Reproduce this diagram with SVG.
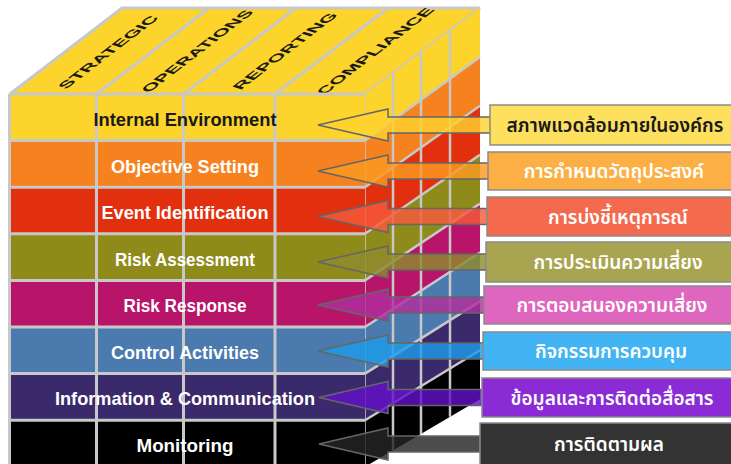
<svg xmlns="http://www.w3.org/2000/svg" width="731" height="464" viewBox="0 0 731 464">
<style>
.sep{stroke:#C8C8C8;stroke-width:3;fill:none}
.sep2{stroke:#C8C8C8;stroke-width:2.5;fill:none}
.lbl{font-family:"Liberation Sans",Arial,sans-serif;font-weight:bold;font-size:19px;text-anchor:middle;fill:#fff}
.top{font-family:"Liberation Sans",Arial,sans-serif;font-weight:bold;font-size:14px;text-anchor:middle;fill:#1a1a1a}
.arr{stroke:#666;stroke-width:1.5;fill-opacity:0.82}
.box{stroke:#8a8a8a;stroke-width:1.5}
.th{font-family:"Noto Sans Thai","Noto Sans","DejaVu Sans",sans-serif;font-weight:600;font-size:19px;text-anchor:middle;fill:#fff}
</style>
<rect width="731" height="464" fill="#fff"/>
<g id="cube-top">
  <polygon points="10,94 365,94 480,8 122,8" fill="#FDD42B"/>
  <polyline class="sep" points="10,94 122,8 480,8"/>
  <line class="sep" x1="96.5" y1="94" x2="209" y2="8"/>
  <line class="sep" x1="183.5" y1="94" x2="296" y2="8"/>
  <line class="sep" x1="275" y1="94" x2="388" y2="8"/>
  <line class="sep" x1="365" y1="94" x2="480" y2="8"/>
  <text class="top" transform="matrix(0.793,-0.609,0.95,0.3,108,52)" x="0" y="5" textLength="118" lengthAdjust="spacingAndGlyphs">STRATEGIC</text>
  <text class="top" transform="matrix(0.793,-0.609,0.95,0.3,197,51)" x="0" y="5" textLength="133" lengthAdjust="spacingAndGlyphs">OPERATIONS</text>
  <text class="top" transform="matrix(0.793,-0.609,0.95,0.3,285,51)" x="0" y="5" textLength="124" lengthAdjust="spacingAndGlyphs">REPORTING</text>
  <text class="top" transform="matrix(0.793,-0.609,0.95,0.3,375,51)" x="0" y="5" textLength="140" lengthAdjust="spacingAndGlyphs">COMPLIANCE</text>
</g>
<g id="cube-side">
  <polygon points="365,94 480,8 480,56.9 365,140.6" fill="#FDD42B"/>
  <polygon points="365,140.6 480,56.9 480,105.8 365,187.2" fill="#F5821F"/>
  <polygon points="365,187.2 480,105.8 480,154.7 365,233.8" fill="#E2300F"/>
  <polygon points="365,233.8 480,154.7 480,203.6 365,280.4" fill="#8E8B1B"/>
  <polygon points="365,280.4 480,203.6 480,252.5 365,327" fill="#B8146A"/>
  <polygon points="365,327 480,252.5 480,301.4 365,373.6" fill="#4A7AAE"/>
  <polygon points="365,373.6 480,301.4 480,350.3 365,420.2" fill="#3B2A6B"/>
  <polygon points="365,420.2 480,350.3 480,399.2 365,466.8" fill="#000"/>
  <line class="sep2" x1="365" y1="140.6" x2="480" y2="56.9"/>
  <line class="sep2" x1="365" y1="187.2" x2="480" y2="105.8"/>
  <line class="sep2" x1="365" y1="233.8" x2="480" y2="154.7"/>
  <line class="sep2" x1="365" y1="280.4" x2="480" y2="203.6"/>
  <line class="sep2" x1="365" y1="327" x2="480" y2="252.5"/>
  <line class="sep2" x1="365" y1="373.6" x2="480" y2="301.4"/>
  <line class="sep2" x1="365" y1="420.2" x2="480" y2="350.3"/>
  <line class="sep2" x1="393" y1="73.1" x2="393" y2="450.3"/>
  <line class="sep2" x1="421" y1="52.1" x2="421" y2="433.9"/>
  <line class="sep2" x1="450" y1="30.4" x2="450" y2="416.8"/>
  <line stroke="#C8C8C8" stroke-width="1.5" x1="365" y1="94" x2="365" y2="464"/>
</g>
<g id="cube-front">
  <rect x="10" y="94" width="355" height="46.6" fill="#FDD42B"/>
  <rect x="10" y="140.6" width="355" height="46.6" fill="#F5821F"/>
  <rect x="10" y="187.2" width="355" height="46.6" fill="#E2300F"/>
  <rect x="10" y="233.8" width="355" height="46.6" fill="#8E8B1B"/>
  <rect x="10" y="280.4" width="355" height="46.6" fill="#B8146A"/>
  <rect x="10" y="327" width="355" height="46.6" fill="#4A7AAE"/>
  <rect x="10" y="373.6" width="355" height="46.6" fill="#3B2A6B"/>
  <rect x="10" y="420.2" width="355" height="46.6" fill="#000"/>
  <g class="sep">
    <line x1="9.5" y1="94" x2="9.5" y2="464"/>
    <line x1="96.5" y1="94" x2="96.5" y2="464"/>
    <line x1="183.5" y1="94" x2="183.5" y2="464"/>
    <line x1="275" y1="94" x2="275" y2="464"/>
    <line x1="9" y1="94" x2="365" y2="94"/>
    <line x1="9" y1="140.6" x2="365" y2="140.6"/>
    <line x1="9" y1="187.2" x2="365" y2="187.2"/>
    <line x1="9" y1="233.8" x2="365" y2="233.8"/>
    <line x1="9" y1="280.4" x2="365" y2="280.4"/>
    <line x1="9" y1="327" x2="365" y2="327"/>
    <line x1="9" y1="373.6" x2="365" y2="373.6"/>
    <line x1="9" y1="420.2" x2="365" y2="420.2"/>
  </g>
  <g id="row-internal-environment"><text class="lbl" x="185" y="126" textLength="183" lengthAdjust="spacingAndGlyphs" style="fill:#1a1a1a">Internal Environment</text></g>
  <g id="row-objective-setting"><text class="lbl" x="185" y="172.5" textLength="148" lengthAdjust="spacingAndGlyphs">Objective Setting</text></g>
  <g id="row-event-identification"><text class="lbl" x="185" y="219" textLength="167" lengthAdjust="spacingAndGlyphs">Event Identification</text></g>
  <g id="row-risk-assessment"><text class="lbl" x="185" y="265.5" textLength="140" lengthAdjust="spacingAndGlyphs">Risk Assessment</text></g>
  <g id="row-risk-response"><text class="lbl" x="185" y="312" textLength="123" lengthAdjust="spacingAndGlyphs">Risk Response</text></g>
  <g id="row-control-activities"><text class="lbl" x="185" y="358.5" textLength="148" lengthAdjust="spacingAndGlyphs">Control Activities</text></g>
  <g id="row-information-communication"><text class="lbl" x="185" y="405" textLength="260" lengthAdjust="spacingAndGlyphs">Information &amp; Communication</text></g>
  <g id="row-monitoring"><text class="lbl" x="185" y="451.5" textLength="97" lengthAdjust="spacingAndGlyphs">Monitoring</text></g>
</g>
<g id="connectors">
  <polygon class="arr" fill="#FFD230" points="500,117 388,117 388,109 318,125 388,141 388,133 500,133"/>
  <polygon class="arr" fill="#FB9A22" points="500,163 388,163 388,155 318,171 388,187 388,179 500,179"/>
  <polygon class="arr" fill="#F55A3A" points="500,208.5 388,208.5 388,200.5 318,216.5 388,232.5 388,224.5 500,224.5"/>
  <polygon class="arr" fill="#8F8B2E" points="500,254 388,254 388,246 318,262 388,278 388,270 500,270"/>
  <polygon class="arr" fill="#B0309E" points="500,297 388,297 388,289 318,305 388,321 388,313 500,313"/>
  <polygon class="arr" fill="#1E9BEA" points="500,343 388,343 388,335 318,351 388,367 388,359 500,359"/>
  <polygon class="arr" fill="#6210C8" points="500,389.5 388,389.5 388,381.5 319,397.5 388,413.5 388,405.5 500,405.5"/>
  <polygon class="arr" fill="#252525" points="500,436 388,436 388,428 319,444 388,460 388,452 500,452"/>
</g>
<g id="box-1"><rect class="box" x="490" y="105" width="260" height="40" fill="#FCE05E"/><text class="th" x="615" y="132" style="fill:#1a1a1a">สภาพแวดล้อมภายในองค์กร</text></g>
<g id="box-2"><rect class="box" x="488" y="152" width="260" height="38" fill="#FBAF45"/><text class="th" x="614" y="178">การกำหนดวัตถุประสงค์</text></g>
<g id="box-3"><rect class="box" x="487" y="197" width="260" height="39" fill="#F46A4D"/><text class="th" x="618" y="223.5">การบ่งชี้เหตุการณ์</text></g>
<g id="box-4"><rect class="box" x="486" y="242" width="260" height="40" fill="#A9A450"/><text class="th" x="618" y="269">การประเมินความเสี่ยง</text></g>
<g id="box-5"><rect class="box" x="484" y="286" width="260" height="38" fill="#DE66BE"/><text class="th" x="612" y="312">การตอบสนองความเสี่ยง</text></g>
<g id="box-6"><rect class="box" x="483" y="332" width="260" height="38" fill="#42B4F4"/><text class="th" x="611" y="358">กิจกรรมการควบคุม</text></g>
<g id="box-7"><rect class="box" x="482" y="378" width="260" height="39" fill="#8A2BD6"/><text class="th" x="612" y="404.5">ข้อมูลและการติดต่อสื่อสาร</text></g>
<g id="box-8"><rect class="box" x="480" y="423" width="260" height="45" fill="#333333"/><text class="th" x="609" y="451">การติดตามผล</text></g>
</svg>
